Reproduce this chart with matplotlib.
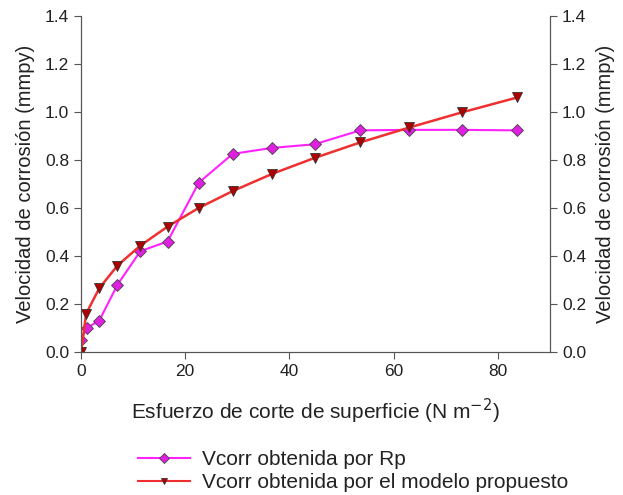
import matplotlib
matplotlib.use("Agg")
import matplotlib.pyplot as plt
from matplotlib.lines import Line2D

plt.rcParams['font.family'] = ['Liberation Sans', 'DejaVu Sans']

# Data
x_rp = [0.0, 1.1, 3.5, 7.0, 11.4, 16.6, 22.6, 29.1, 36.7, 44.8, 53.6, 63.0, 73.1, 83.7]
v_rp = [0.05, 0.10, 0.13, 0.28, 0.42, 0.46, 0.705, 0.825, 0.85, 0.865, 0.923, 0.925, 0.925, 0.923]

x_mod = [0.0, 1.0, 3.5, 7.0, 11.4, 16.6, 22.6, 29.1, 36.7, 44.8, 53.6, 63.0, 73.1, 83.7]
v_mod = [0.0, 0.16, 0.265, 0.36, 0.443, 0.522, 0.60, 0.67, 0.742, 0.808, 0.873, 0.935, 0.998, 1.06]

xticks = [0, 20, 40, 60, 80]
yticks = [0.0, 0.2, 0.4, 0.6, 0.8, 1.0, 1.2, 1.4]
ylabel = 'Velocidad de corrosión (mmpy)'

fig = plt.figure(figsize=(6.23, 4.95), dpi=100)
ax = fig.add_axes([0.130, 0.289, 0.753, 0.679])

spine_col = '#555555'
ax.plot(x_rp, v_rp, color='#FF22FF', linewidth=1.5, marker='D', markersize=6.5,
        markerfacecolor='#E020E0', markeredgecolor='#444444', markeredgewidth=0.6, zorder=3)
ax.plot(x_mod, v_mod, color='#F03030', linewidth=1.8, marker='v', markersize=7,
        markerfacecolor='#B00000', markeredgecolor='#333333', markeredgewidth=0.6, zorder=4)

ax.set_xlim(0, 90)
ax.set_ylim(0, 1.4)
ax.set_xticks(xticks)
ax.set_yticks(yticks)
ax.set_yticklabels([f'{v:.1f}' for v in yticks])
ax.tick_params(direction='out', length=5, color=spine_col, labelsize=12.5, labelcolor='#222222')
ax.spines['top'].set_visible(False)
for s in ['left', 'bottom', 'right']:
    ax.spines[s].set_color(spine_col)
ax.set_ylabel(ylabel, fontsize=14.5, color='#222222', labelpad=7)
ax.set_xlabel('Esfuerzo de corte de superficie (N m$^{-2}$)', fontsize=15,
              color='#222222', labelpad=13)

ax2 = ax.twinx()
ax2.set_ylim(0, 1.4)
ax2.set_yticks(yticks)
ax2.set_yticklabels([f'{v:.1f}' for v in yticks])
ax2.tick_params(direction='out', length=5, color=spine_col, labelsize=12.5, labelcolor='#222222')
ax2.spines['top'].set_visible(False)
for s in ['left', 'bottom', 'right']:
    ax2.spines[s].set_color(spine_col)
ax2.set_ylabel(ylabel, fontsize=14.5, color='#222222', labelpad=7)

handles = [
    Line2D([], [], color='#FF22FF', linewidth=1.5, marker='D', markersize=5,
           markerfacecolor='#E020E0', markeredgecolor='#444444', markeredgewidth=0.6),
    Line2D([], [], color='#F03030', linewidth=1.5, marker='v', markersize=5,
           markerfacecolor='#B00000', markeredgecolor='#333333', markeredgewidth=0.6),
]
labels = ['Vcorr obtenida por Rp', 'Vcorr obtenida por el modelo propuesto']
fig.legend(handles, labels, loc='upper left', bbox_to_anchor=(0.205, 0.112),
           frameon=False, fontsize=15, handlelength=2.5, handletextpad=0.55,
           labelspacing=0.2, borderpad=0, labelcolor='#222222')

fig.savefig('out.png', dpi=100, facecolor='white')
